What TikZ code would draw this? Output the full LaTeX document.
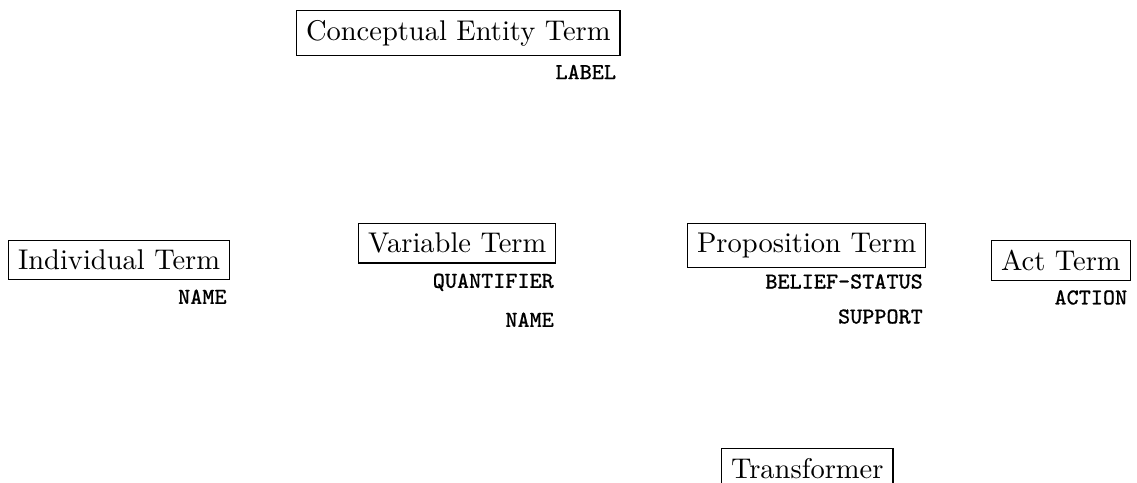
\documentclass[tikz,border=0pt]{standalone}
\usepackage{fontspec}
\usetikzlibrary{calc}
\newfontfamily\attrfont{Latin Modern Mono}[FakeBold=0.6]
\tikzset{
  term/.style={draw, line width=0.4pt, inner sep=3.333pt, anchor=north west, font=\normalsize},
  attr/.style={inner sep=0pt, anchor=base east, font=\footnotesize\attrfont}
}
\begin{document}
\begin{tikzpicture}[x=0.3509pt, y=-0.3509pt]
\useasboundingbox (0,0) rectangle (1137,483);
\clip (0,0) rectangle (1137,483);
\node[term] (cet) at (296,10) {Conceptual Entity Term};
\node[term] (ind) at (8,240) {Individual Term};
\node[term] (var) at (358,223) {Variable Term};
\node[term] (prop) at (687,223) {Proposition Term};
\node[term] (act) at (991,240) {Act Term};
\node[term] (trans) at (721,448) {Transformer};
\node[attr] (cetlabel) at ($(cet.base east)+(-4,39)$) {LABEL};
\node[attr] (indname) at ($(ind.base east)+(-3,34)$) {NAME};
\node[attr] (varquant) at ($(var.base east)+(-2,35)$) {QUANTIFIER};
\node[attr] (varname) at ($(var.base east)+(-2,74)$) {NAME};
\node[attr] (propbel) at ($(prop.base east)+(-3,36)$) {BELIEF-STATUS};
\node[attr] (propsup) at ($(prop.base east)+(-3,71)$) {SUPPORT};
\node[attr] (actaction) at ($(act.base east)+(-3,34)$) {ACTION};
\end{tikzpicture}
\end{document}
